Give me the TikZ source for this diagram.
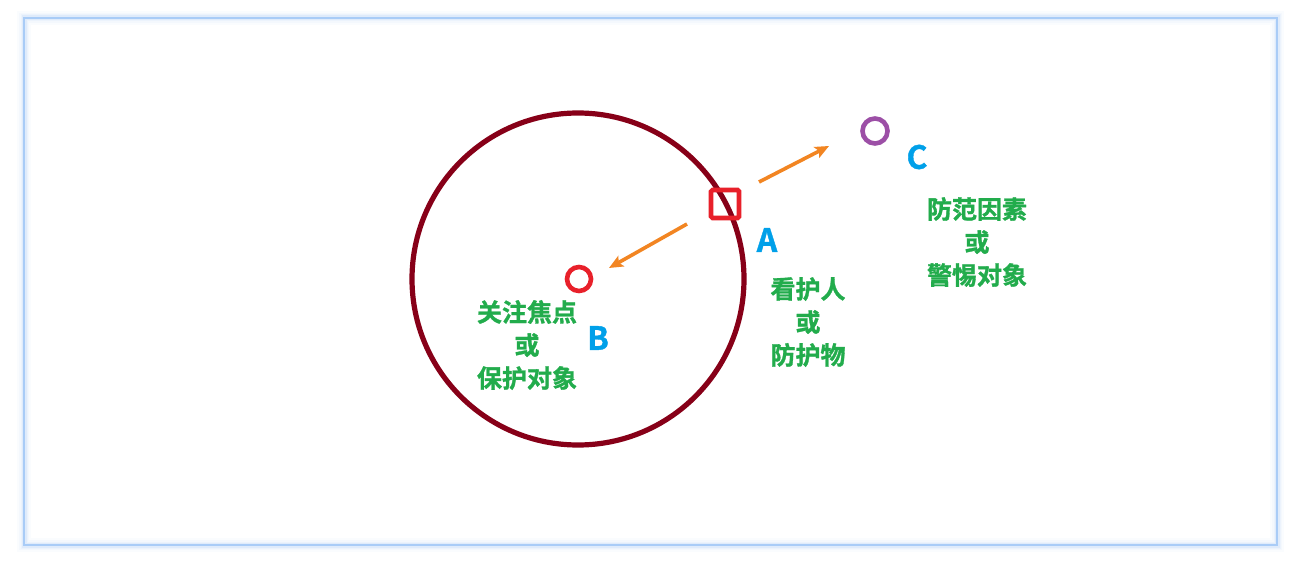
\documentclass[tikz,border=0pt]{standalone}
\usepackage{fontspec}
\newfontfamily\cjk{Noto Sans CJK SC}[UprightFont={* Bold}, FakeBold=1.2]
\usetikzlibrary{arrows.meta}
\definecolor{ringred}{HTML}{870018}
\definecolor{boxred}{HTML}{E8202A}
\definecolor{purp}{HTML}{9C4FA6}
\definecolor{lblblue}{HTML}{00A0E9}
\definecolor{txtgreen}{HTML}{22AC4C}
\definecolor{arrorange}{HTML}{F28522}
\definecolor{framebl}{HTML}{A9CCF7}
\tikzset{
  cntext/.style={text=txtgreen, font=\cjk\fontsize{25}{33}\selectfont, align=center, inner sep=0pt},
  letter/.style={text=lblblue, font=\cjk\fontsize{32}{32}\selectfont, inner sep=0pt},
  orangearrow/.style={draw=arrorange, line width=3.6pt, -{Stealth[length=14pt,width=12pt,inset=3pt]}},
}
\begin{document}
\begin{tikzpicture}[x=1pt,y=-1pt]
\useasboundingbox (0,0) rectangle (1292,564);
\fill[white] (0,0) rectangle (1292,564);
% frame glow
\foreach \w/\o in {14/0.05,10/0.07,7/0.1,5/0.18} {
  \draw[framebl, opacity=\o, line width=\w pt] (24,18) rectangle (1277,545);
}
\draw[framebl, line width=2.4pt] (24,18) rectangle (1277,545);
% big ring
\node[draw=ringred, line width=5.2pt, circle, minimum size=332pt, inner sep=0pt] (ring) at (578,279) {};
% small circles
\node[draw=boxred, line width=4.6pt, circle, minimum size=24pt, inner sep=0pt] (ptB) at (579,279) {};
\node[draw=purp, line width=4.6pt, circle, minimum size=25pt, inner sep=0pt] (ptC) at (875,131) {};
% box A
\node[draw=boxred, line width=4.6pt, rounded corners=1.5pt, minimum width=28pt, minimum height=28pt, inner sep=0pt] (boxA) at (725,204) {};
% arrows
\coordinate (a1s) at (759,182);
\coordinate (a1e) at (829,146);
\coordinate (a2s) at (687,224);
\coordinate (a2e) at (609,268);
\draw[orangearrow] (a1s) -- (a1e);
\draw[orangearrow] (a2s) -- (a2e);
% letters
\node[letter] (lA) at (767,240) {A};
\node[letter] (lB) at (598,338) {B};
\node[letter] (lC) at (917,157) {C};
% texts
\node[cntext] (tA) at (808,322) {看护人\\或\\防护物};
\node[cntext] (tB) at (527,345) {关注焦点\\或\\保护对象};
\node[cntext] (tC) at (977,242) {防范因素\\或\\警惕对象};
\end{tikzpicture}
\end{document}
